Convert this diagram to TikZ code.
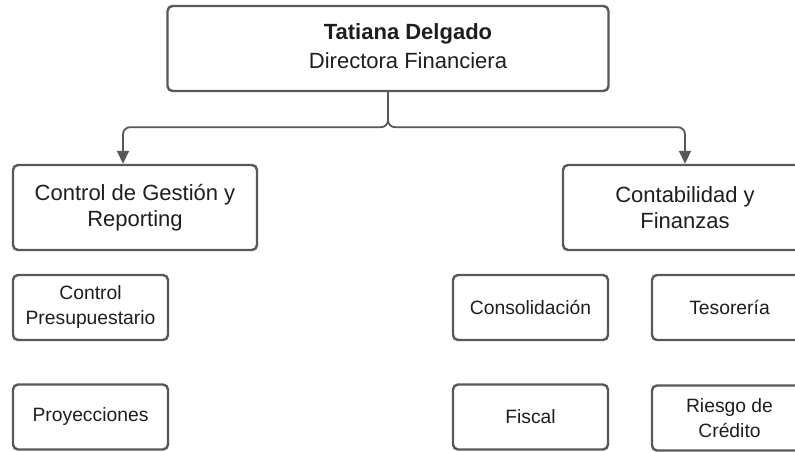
\documentclass[tikz,border=0pt]{standalone}
\usepackage{fontspec}
\setmainfont{Liberation Sans}
\usetikzlibrary{arrows.meta}
\definecolor{boxgray}{RGB}{88, 88, 88}
\definecolor{textgray}{RGB}{30, 30, 30}
\begin{document}
\begin{tikzpicture}[x=1pt, y=-1pt,
    every node/.style={draw=boxgray, line width=2.4pt, rounded corners=5pt, fill=white, align=center, text=textgray},
    dept/.style={minimum width=244pt, minimum height=85pt, font=\fontsize{22}{26}\selectfont},
    team/.style={minimum width=155pt, minimum height=65pt, font=\fontsize{19.3}{25}\selectfont},
    link/.style={draw=boxgray, line width=1.8pt, rounded corners=7pt, -{Triangle[length=13pt, width=12pt]}}
  ]
  \useasboundingbox (0,0) rectangle (795,452);
  \clip (0,0) rectangle (795,452);
  \node[minimum width=441pt, minimum height=85pt] (director) at (388,48.5) {};
  \node[draw=none, fill=none, font=\fontsize{22}{29}\selectfont] (directorname) at (408,46) {\textbf{Tatiana Delgado}\\Directora Financiera};
  \node[dept] (gestion) at (135,207.5) {Control de Gestión y\\Reporting};
  \node[dept] (contabilidad) at (685,207.5) {Contabilidad y\\Finanzas};
  \node[team] (presupuesto) at (90.5,307.5) {Control\\Presupuestario};
  \node[team] (proyecciones) at (90.5,417) {Proyecciones};
  \node[team] (consolidacion) at (530.5,307.5) {Consolidación};
  \node[team] (fiscal) at (530.5,417) {Fiscal};
  \node[team] (tesoreria) at (729.5,307.5) {Tesorería};
  \node[team] (riesgo) at (729.5,418) {Riesgo de\\Crédito};
  \draw[link] (director.south) -- ++(0,35) -| ([xshift=-12pt]gestion.north);
  \draw[link] (director.south) -- ++(0,35) -| (contabilidad.north);
\end{tikzpicture}
\end{document}
